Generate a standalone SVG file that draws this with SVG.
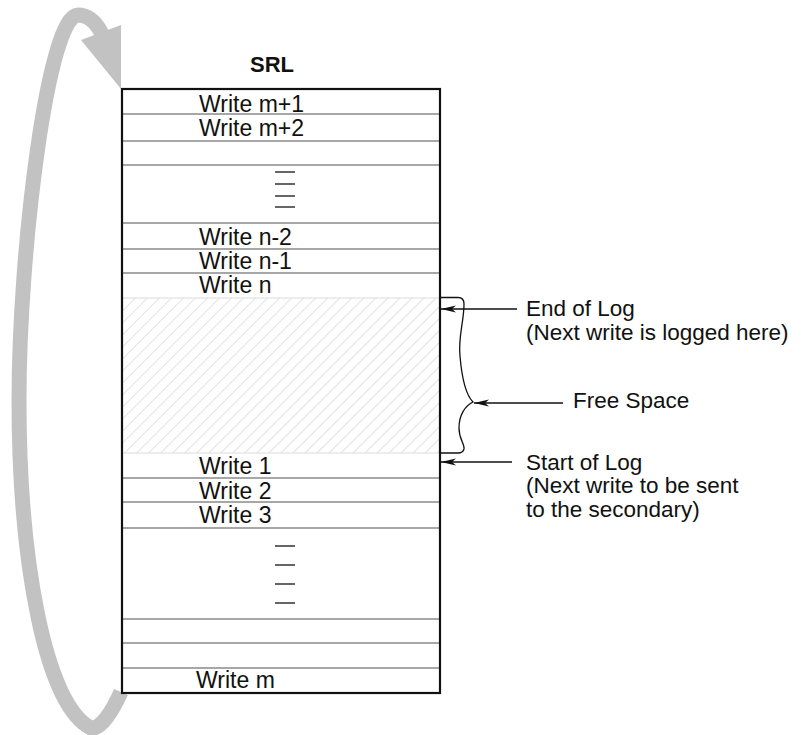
<svg xmlns="http://www.w3.org/2000/svg" width="811" height="735" viewBox="0 0 811 735">
<style>
  .t { font-family: "Liberation Sans", Arial, sans-serif; font-size: 23px; fill: #111; }
  .r { font-family: "Liberation Sans", Arial, sans-serif; font-size: 22.5px; fill: #111; }
  .b { font-family: "Liberation Sans", Arial, sans-serif; font-size: 22px; font-weight: bold; fill: #111; }
  .row { stroke: #8a8a8a; stroke-width: 1.5; fill: none; }
  .dash { stroke: #333; stroke-width: 1.5; }
  .conn { stroke: #111; stroke-width: 1.3; fill: none; }
</style>
<defs>
  <pattern id="hatch" patternUnits="userSpaceOnUse" width="8.5" height="8.5" patternTransform="rotate(45)">
    <line x1="0" y1="0" x2="0" y2="8.5" stroke="#cfcfcf" stroke-width="1.2"/>
  </pattern>
  <marker id="ah" markerUnits="userSpaceOnUse" markerWidth="16" markerHeight="10" refX="15" refY="5" orient="auto">
    <path d="M0,1.5 L15,5 L0,8.5 L4,5 Z" fill="#111"/>
  </marker>
</defs>
<rect width="811" height="735" fill="#fff"/>

<g id="cycle-arrow">
  <path d="M121 692 C 112 712, 100 730, 91 728 C 45 705, 19 560, 19 400 C 19 250, 48 15, 78 15 C 90 15, 97 24, 102 34" fill="none" stroke="#c2c2c2" stroke-width="15"/>
  <polygon points="81,40 121,25 121,89" fill="#c2c2c2"/>
</g>

<g id="srl-title">
  <text class="b" x="272" y="72" text-anchor="middle">SRL</text>
</g>

<g id="srl-box">
  <rect x="122" y="298" width="318" height="155" fill="url(#hatch)" stroke="#dcdcdc" stroke-width="1"/>
  <line class="row" x1="122" y1="114" x2="440" y2="114"/>
  <line class="row" x1="122" y1="141" x2="440" y2="141"/>
  <line class="row" x1="122" y1="165" x2="440" y2="165"/>
  <line class="row" x1="122" y1="223" x2="440" y2="223"/>
  <line class="row" x1="122" y1="249" x2="440" y2="249"/>
  <line class="row" x1="122" y1="273" x2="440" y2="273"/>
  <line class="row" x1="122" y1="478" x2="440" y2="478"/>
  <line class="row" x1="122" y1="502" x2="440" y2="502"/>
  <line class="row" x1="122" y1="528" x2="440" y2="528"/>
  <line class="row" x1="122" y1="619" x2="440" y2="619"/>
  <line class="row" x1="122" y1="643" x2="440" y2="643" stroke="#555"/>
  <line class="row" x1="122" y1="668" x2="440" y2="668"/>
  <rect x="122" y="89" width="318" height="604" fill="none" stroke="#111" stroke-width="2.2"/>
  <line class="dash" x1="275" y1="172" x2="295" y2="172"/>
  <line class="dash" x1="275" y1="184" x2="295" y2="184"/>
  <line class="dash" x1="275" y1="196" x2="295" y2="196"/>
  <line class="dash" x1="275" y1="207" x2="295" y2="207"/>
  <line class="dash" x1="275" y1="546" x2="295" y2="546"/>
  <line class="dash" x1="275" y1="565" x2="295" y2="565"/>
  <line class="dash" x1="275" y1="584" x2="295" y2="584"/>
  <line class="dash" x1="275" y1="603" x2="295" y2="603"/>
  <text class="t" x="199" y="112">Write m+1</text>
  <text class="t" x="199" y="136">Write m+2</text>
  <text class="t" x="199" y="245">Write n-2</text>
  <text class="t" x="199" y="269">Write n-1</text>
  <text class="t" x="199" y="293">Write n</text>
  <text class="t" x="199" y="474">Write 1</text>
  <text class="t" x="199" y="499">Write 2</text>
  <text class="t" x="199" y="523">Write 3</text>
  <text class="t" x="196" y="688">Write m</text>
</g>

<g id="free-space-brace">
  <path class="conn" d="M440 297.5 H458 Q464 297.5 464 304 C464 322, 458 336, 460 356 C462 380, 466 395, 473 402 C465 406, 459 415, 459 428 C459 440, 465 444, 464 449 Q463 453 458 453 H440"/>
</g>

<g id="connectors">
  <line class="conn" x1="517" y1="309" x2="441" y2="309" marker-end="url(#ah)"/>
  <line class="conn" x1="563" y1="403" x2="474" y2="403" marker-end="url(#ah)"/>
  <line class="conn" x1="512" y1="462" x2="441" y2="462" marker-end="url(#ah)"/>
</g>

<g id="label-end-of-log">
  <text class="r" x="526" y="316">End of Log</text>
  <text class="r" x="526" y="340">(Next write is logged here)</text>
</g>
<g id="label-free-space">
  <text class="r" x="573" y="408">Free Space</text>
</g>
<g id="label-start-of-log">
  <text class="r" x="526" y="470">Start of Log</text>
  <text class="r" x="526" y="493">(Next write to be sent</text>
  <text class="r" x="526" y="517">to the secondary)</text>
</g>
</svg>
